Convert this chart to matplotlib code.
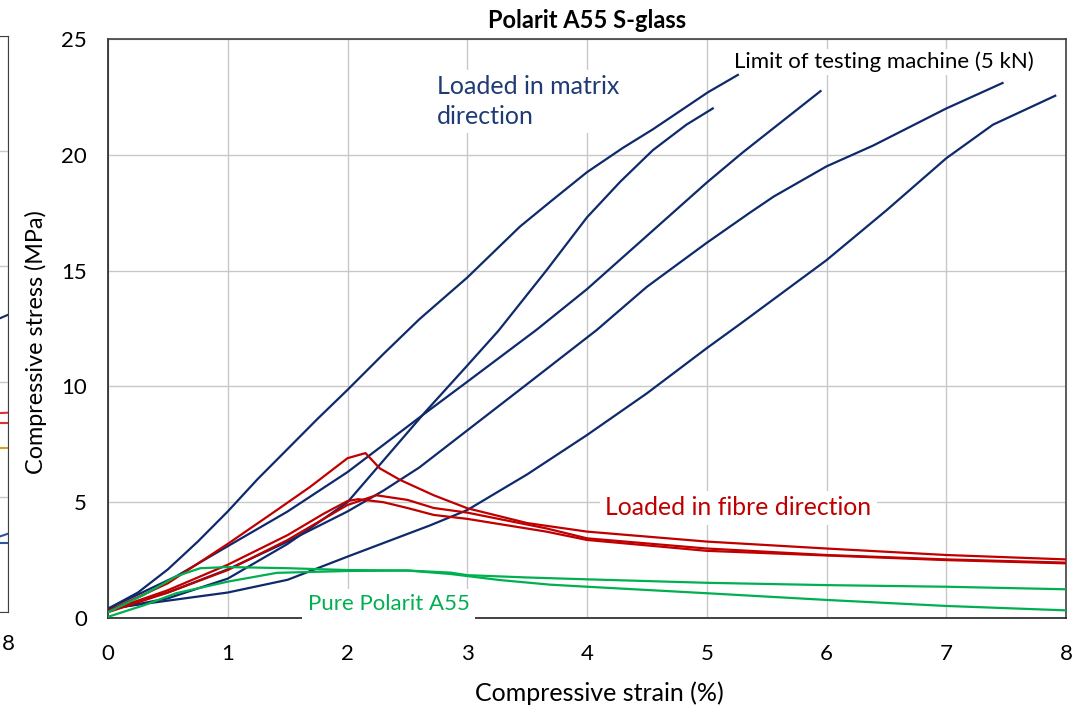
import numpy as np
import matplotlib
matplotlib.use("Agg")
import matplotlib.pyplot as plt

plt.rcParams['font.family'] = ['Lato', 'DejaVu Sans']

# matrix direction (blue)
b1_x = [0, 0.25, 0.5, 0.75, 1, 1.25, 1.5, 1.75, 2, 2.3, 2.6, 3, 3.44, 3.7, 4, 4.3, 4.55, 5.01, 5.26]
b1_y = [0.4, 1.1, 2.1, 3.3, 4.6, 6.0, 7.3, 8.6, 9.85, 11.4, 12.9, 14.7, 16.9, 18.0, 19.25, 20.3, 21.1, 22.7, 23.45]
b2_x = [0, 0.5, 1, 1.5, 2, 2.3, 2.65, 3, 3.26, 3.66, 4, 4.28, 4.55, 4.83, 5.05]
b2_y = [0.35, 0.85, 1.7, 3.2, 5.0, 6.8, 8.9, 10.9, 12.4, 15.0, 17.3, 18.85, 20.2, 21.3, 22.0]
b3_x = [0, 0.57, 1, 1.5, 2, 2.65, 3, 3.58, 4, 4.5, 5, 5.3, 5.95]
b3_y = [0.4, 1.8, 3.1, 4.6, 6.3, 8.85, 10.2, 12.45, 14.2, 16.5, 18.8, 20.1, 22.75]
b4_x = [0, 0.5, 1, 1.5, 2, 2.3, 2.6, 3, 3.5, 4.08, 4.5, 5, 5.36, 5.56, 6, 6.39, 7, 7.47]
b4_y = [0.35, 1.1, 2.1, 3.3, 4.6, 5.5, 6.5, 8.1, 10.1, 12.43, 14.3, 16.2, 17.5, 18.2, 19.5, 20.4, 22.0, 23.1]
b5_x = [0, 0.5, 1, 1.5, 2, 2.69, 3, 3.5, 4, 4.5, 5, 5.28, 6, 6.5, 7, 7.39, 7.91]
b5_y = [0.4, 0.75, 1.1, 1.65, 2.65, 4.0, 4.66, 6.2, 7.9, 9.7, 11.65, 12.7, 15.45, 17.6, 19.85, 21.3, 22.55]

# fibre direction (red)
r1_x = [0, 0.5, 1, 1.41, 1.69, 2, 2.15, 2.27, 2.44, 2.72, 3, 3.5, 4, 5, 6, 7, 8]
r1_y = [0.3, 1.5, 3.2, 4.66, 5.67, 6.9, 7.12, 6.46, 5.96, 5.3, 4.74, 4.1, 3.73, 3.3, 3.0, 2.72, 2.53]
r2_x = [0, 0.5, 1, 1.5, 1.8, 2, 2.09, 2.3, 2.5, 2.72, 3, 3.66, 4, 5, 6, 7, 8]
r2_y = [0.3, 1.2, 2.3, 3.58, 4.5, 5.05, 5.13, 5.0, 4.75, 4.45, 4.28, 3.73, 3.37, 2.9, 2.7, 2.5, 2.36]
r3_x = [0, 0.5, 1, 1.5, 2, 2.24, 2.5, 2.72, 3, 3.66, 4, 5, 6, 7, 8]
r3_y = [0.25, 1.1, 2.07, 3.37, 4.88, 5.3, 5.1, 4.75, 4.55, 3.87, 3.44, 3.0, 2.72, 2.53, 2.39]

# pure Polarit A55 (green)
g1_x = [0, 0.3, 0.57, 0.77, 1, 1.5, 2, 2.5, 2.86, 3.27, 3.69, 4, 5, 6, 7, 8]
g1_y = [0.25, 1.0, 1.8, 2.15, 2.2, 2.15, 2.07, 2.05, 1.9, 1.64, 1.44, 1.35, 1.07, 0.78, 0.52, 0.33]
g2_x = [0, 0.3, 0.57, 1, 1.41, 2, 2.5, 2.86, 3, 3.5, 4, 5, 6, 7, 8]
g2_y = [0.05, 0.55, 1.07, 1.57, 1.95, 2.03, 2.05, 1.96, 1.85, 1.75, 1.67, 1.52, 1.42, 1.35, 1.24]

# neighbouring chart, only its right edge shows
nb_x = [7.6, 8]
nb_blue_a = [12.4, 12.9]
nb_red_a = [8.6, 8.65]
nb_red_b = [8.2, 8.2]
nb_orange = [7.1, 7.1]
nb_blue_b = [3.0, 3.4]
nb_blue_c = [3.0, 3.0]

xticks = [0, 1, 2, 3, 4, 5, 6, 7, 8]
yticks = [0, 5, 10, 15, 20, 25]

BLUE = '#0E2A6B'
RED = '#C00000'
GREEN = '#00B050'
ORANGE = '#D9A020'

fig = plt.figure(figsize=(10.76, 7.08), dpi=100)

# cropped neighbour chart on the left
axn = fig.add_axes([-0.49, 1 - 612 / 708, 0.4975, (612 - 36) / 708])
axn.set_xlim(0, 8)
axn.set_ylim(0, 25)
axn.set_yticks(yticks)
axn.set_xticks([8])
axn.set_xticklabels(['8'])
axn.tick_params(length=0, labelsize=16, pad=16, labelleft=False)
axn.grid(True, color='#C8C8C8', lw=1)
for s in axn.spines.values():
    s.set_color('#404040')
axn.plot(nb_x, nb_blue_a, color=BLUE, lw=1.5)
axn.plot(nb_x, nb_red_a, color='#E03030', lw=1.5)
axn.plot(nb_x, nb_red_b, color='#E03030', lw=1.5)
axn.plot(nb_x, nb_orange, color=ORANGE, lw=1.5)
axn.plot(nb_x, nb_blue_b, color='#2F5597', lw=1.5)
axn.plot(nb_x, nb_blue_c, color='#2F5597', lw=1.5)

ax = fig.add_axes([108 / 1076, 1 - 618 / 708, (1066 - 108) / 1076, (618 - 39) / 708])

for xs, ys in [(b1_x, b1_y), (b2_x, b2_y), (b3_x, b3_y), (b4_x, b4_y), (b5_x, b5_y)]:
    ax.plot(xs, ys, color=BLUE, lw=1.6, zorder=5)
for xs, ys in [(r1_x, r1_y), (r2_x, r2_y), (r3_x, r3_y)]:
    ax.plot(xs, ys, color=RED, lw=1.6, zorder=5)
for xs, ys in [(g1_x, g1_y), (g2_x, g2_y)]:
    ax.plot(xs, ys, color=GREEN, lw=1.6, zorder=5)

ax.set_xlim(0, 8)
ax.set_ylim(0, 25)
ax.set_xticks(xticks)
ax.set_yticks(yticks)
ax.tick_params(length=0, labelsize=16)
ax.tick_params(axis='x', pad=19)
ax.tick_params(axis='y', pad=15)
ax.grid(True, color='#C8C8C8', lw=1, zorder=0)
ax.set_axisbelow(True)
for s in ax.spines.values():
    s.set_color('#404040')
    s.set_linewidth(1.2)
ax.spines['left'].set_color('#222222')
ax.spines['bottom'].set_color('#222222')

ax.set_xlabel('Compressive strain (%)', fontsize=18)
ax.set_ylabel('Compressive stress (MPa)', fontsize=16.8)
ax.xaxis.set_label_coords(0.5125, -0.109)
ax.yaxis.set_label_coords(-0.064, 0.476)
ax.set_title('Polarit A55 S-glass', fontsize=17, fontweight='bold', pad=8)

box = dict(facecolor='white', edgecolor='none', pad=4)
ax.text(2.75, 22.3, 'Loaded in matrix\ndirection', color='#1F3B73', fontsize=18,
        ha='left', va='center', linespacing=1.35, bbox=box, zorder=4)
ax.text(5.23, 24.0, 'Limit of testing machine (5 kN)', color='black', fontsize=16,
        ha='left', va='center', bbox=dict(facecolor='white', edgecolor='none', pad=2), zorder=4)
ax.text(4.15, 4.75, 'Loaded in fibre direction', color=RED, fontsize=17.8,
        ha='left', va='center', bbox=box, zorder=4)
ax.text(1.67, 0.6, 'Pure Polarit A55', color=GREEN, fontsize=16,
        ha='left', va='center', bbox=box, zorder=4)

fig.savefig('out.png', dpi=100)
